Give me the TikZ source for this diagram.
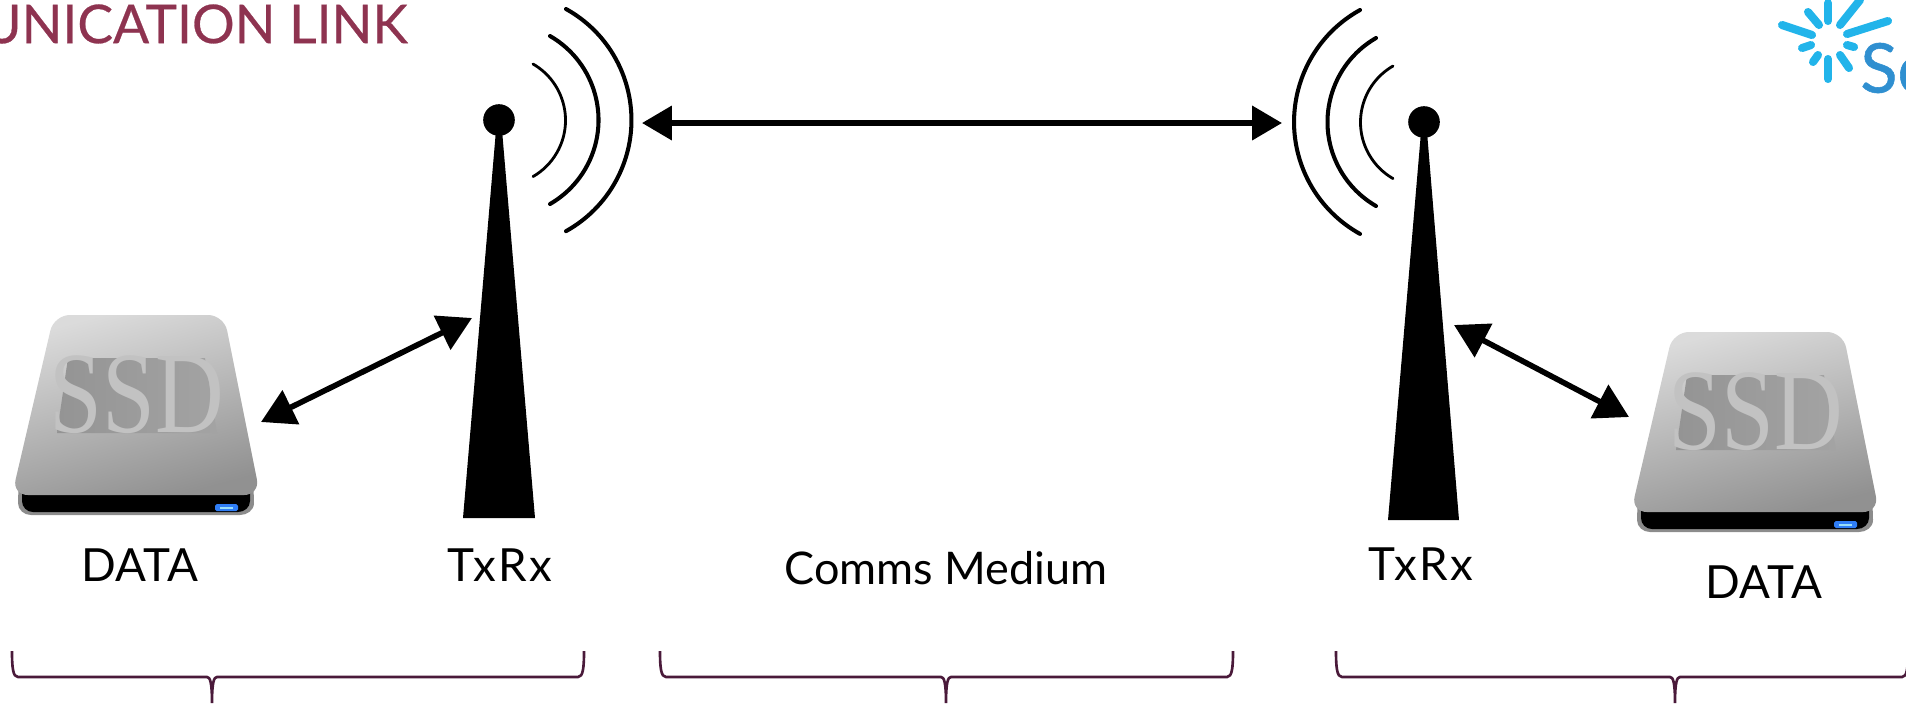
\documentclass[tikz,border=0pt]{standalone}
\usepackage{xcolor}
\usepackage{fontspec}
\setmainfont{Lato}
\usetikzlibrary{arrows.meta}
\definecolor{titlered}{HTML}{8E3350}
\definecolor{bracecol}{HTML}{4A1A3A}
\definecolor{rayblue}{HTML}{22B4EA}
\definecolor{logoblue}{HTML}{2F8FD0}
\definecolor{ledblue}{HTML}{2F7DF5}
\tikzset{
  link/.style={{Triangle[length=17pt,width=19pt]}-{Triangle[length=17pt,width=19pt]},line width=3.2pt},
  diaglink/.style={{Triangle[length=19pt,width=21pt]}-{Triangle[length=19pt,width=21pt]},line width=3.2pt},
  wave/.style={line width=2.3pt,line cap=round},
  thinwave/.style={line width=1.6pt,line cap=round},
  ray/.style={rayblue,line width=4.6pt,line cap=round},
  lbl/.style={font=\fontsize{26}{30}\selectfont,inner sep=0pt},
  brace/.style={bracecol,line width=1.5pt},
  ssd/.pic={
    \fill[black!45] (19,470) -- (253,470) -- (254,503) to[out=-90,in=0] (240,515) -- (31,515) to[out=180,in=-90] (18,503) -- cycle;
    \fill[black] (22,488) -- (250,488) -- (250,501) to[out=-90,in=0] (238,512) -- (33,512) to[out=180,in=-90] (22,501) -- cycle;
    \shade[rounded corners=9pt,top color=black!14,bottom color=black!43,shading angle=15] (54,315) -- (224,315) -- (260,495) -- (12,495) -- cycle;
    \fill[ledblue,rounded corners=1pt] (215,504) rectangle (238,511);
    \fill[cyan!40!white] (220,507) rectangle (233,508.5);
    \shade[left color=black!42,right color=black!36] (68,358) -- (205,358) -- (217,433) -- (57,433) -- cycle;
    \node[font=\fontsize{66}{66}\selectfont,text=black!24,inner sep=0pt,xscale=0.82] (ssdtext) at (137,395) {\fontspec{Liberation Serif}SSD};
  }
}
\begin{document}
\begin{tikzpicture}[x=0.02cm,y=-0.02cm]
\useasboundingbox (0,0) rectangle (1906,708);
% title and logo
\node[anchor=east,text=titlered,font=\fontsize{30.4}{32}\selectfont,inner sep=0pt] (title) at (408,24) {\addfontfeature{FakeBold=0.5}UNICATION LINK};
\draw[ray] (1782,25) -- (1812,35);
\draw[ray] (1808,12) -- (1819,25);
\draw[ray] (1828,3) -- (1828,21);
\draw[ray] (1860,0) -- (1840,25);
\draw[ray] (1888,21) -- (1847,34);
\draw[ray] (1802,48) -- (1811,45);
\draw[ray] (1813,62) -- (1818,55);
\draw[ray] (1828,59) -- (1828,79);
\draw[ray] (1840,55) -- (1849,68);
\draw[ray] (1847,45) -- (1854,47);
\node[anchor=west,text=logoblue,font=\fontsize{39}{44}\selectfont,inner sep=0pt] (logo) at (1860,68) {\addfontfeature{FakeBold=0.8}Sc};
% left antenna
\fill (463,518) -- (496,130) -- (502,130) -- (535,518) -- cycle;
\node[circle,fill,inner sep=0pt,minimum size=18pt] (topL) at (499,120) {};
\draw[thinwave] (533,64) arc[start angle=-60,end angle=60,radius=65];
\draw[wave] (550,36) arc[start angle=-60,end angle=60,radius=97];
\draw[wave] (566,9) arc[start angle=-61,end angle=61,radius=127];
% right antenna
\fill (1388,520) -- (1421,132) -- (1427,132) -- (1459,520) -- cycle;
\node[circle,fill,inner sep=0pt,minimum size=18pt] (topR) at (1424,122) {};
\draw[thinwave] (1393,66) arc[start angle=240,end angle=120,radius=65];
\draw[wave] (1376,38) arc[start angle=240,end angle=120,radius=97];
\draw[wave] (1360,10) arc[start angle=241,end angle=119,radius=128];
% drives
\pic (driveL) at (0,0) {ssd};
\pic (driveR) at (1619,17) {ssd};
% connectors
\coordinate (mediumL) at (642,123);
\coordinate (mediumR) at (1282,123);
\coordinate (portL) at (261,422);
\coordinate (mastL) at (472,318);
\coordinate (mastR) at (1454,325);
\coordinate (portR) at (1629,417);
\draw[link] (mediumL) -- (mediumR);
\draw[diaglink] (portL) -- (mastL);
\draw[diaglink] (mastR) -- (portR);
% labels
\node[lbl] (dataL) at (140,565) {DATA};
\node[lbl] (txrxL) at (500,565) {\addfontfeature{LetterSpace=6}TxRx};
\node[lbl,font=\fontsize{25.6}{30}\selectfont] (medium) at (946,568) {Comms Medium};
\node[lbl] (txrxR) at (1421,564) {\addfontfeature{LetterSpace=6}TxRx};
\node[lbl] (dataR) at (1764,582) {DATA};
% braces
\foreach \bl/\bm/\br in {12/212/584,660/946/1233,1336/1675/1908}
  \draw[brace] (\bl,651) .. controls (\bl,668) and (\bl+1,677) .. (\bl+6,677) -- (\bm-5,677) .. controls (\bm-2,677) and (\bm,682) .. (\bm,703) .. controls (\bm,682) and (\bm+2,677) .. (\bm+5,677) -- (\br-6,677) .. controls (\br-1,677) and (\br,668) .. (\br,651);
\end{tikzpicture}
\end{document}
